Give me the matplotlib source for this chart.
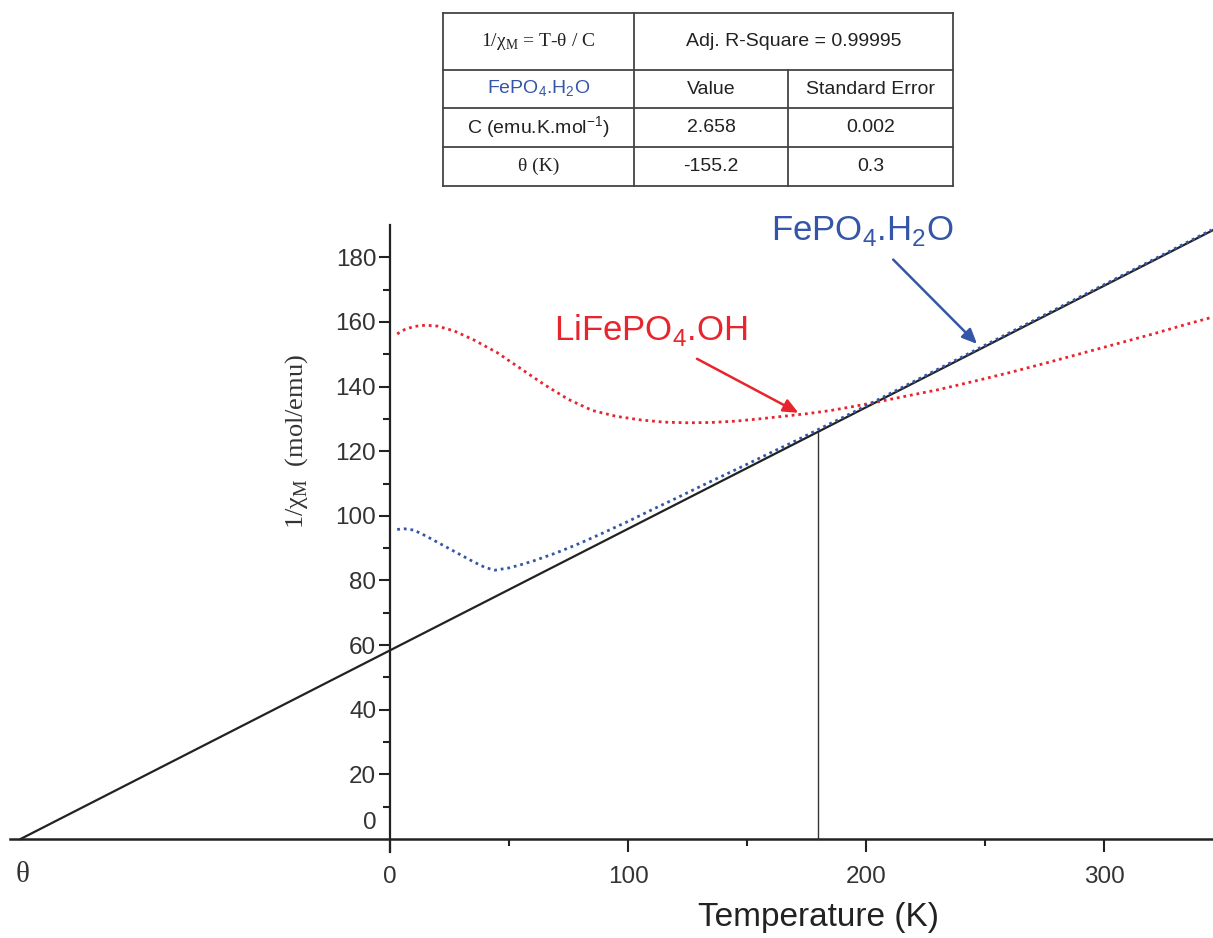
import numpy as np
import matplotlib
matplotlib.use('Agg')
import matplotlib.pyplot as plt
from matplotlib.ticker import FixedLocator
from matplotlib.lines import Line2D

# ---------------- data ----------------
T_red = [3, 6, 10, 15, 20, 27, 35, 45, 55, 65, 75, 85, 95, 105, 115, 125, 135,
         145, 155, 165, 175, 185, 195, 205, 215, 230, 245, 260, 275, 290, 305,
         320, 335, 345]
chi_red = [156.3, 157.6, 158.6, 159.0, 158.7, 157.2, 154.5, 150.5, 145.5, 140.5,
           136.0, 132.6, 130.8, 129.7, 129.0, 128.8, 128.9, 129.3, 130.0, 130.8,
           131.6, 132.6, 133.9, 135.3, 136.8, 139.0, 141.6, 144.3, 147.2, 150.2,
           153.2, 156.2, 159.4, 161.4]

T_blue = [3, 6, 10, 15, 20, 25, 30, 35, 40, 44, 50, 55, 60, 70, 80, 90, 100, 110,
          120, 130, 140, 150, 160, 170, 180, 190, 200, 220, 240, 260, 280, 300,
          320, 345]
chi_blue = [95.8, 96.0, 95.6, 93.8, 91.8, 89.8, 87.8, 85.8, 84.0, 83.2, 83.9,
            84.9, 86.0, 88.6, 91.6, 94.9, 98.3, 101.9, 105.4, 109.0, 112.5, 116.0,
            119.6, 123.1, 126.8, 130.4, 134.1, 141.6, 149.1, 156.6, 164.1, 171.6,
            179.1, 188.5]

C_fit = 2.658        # emu.K/mol
theta_fit = -155.2   # K
T_mark = 179.6       # K, vertical marker
T_max = 345.6

x_ticks = [0, 100, 200, 300]
x_minor = [50, 150, 250]
y_ticks = [20, 40, 60, 80, 100, 120, 140, 160, 180]
y_minor = [10, 30, 50, 70, 90, 110, 130, 150, 170]

table_rows = [
    ["1/χ$_{\\mathregular{M}}$ = T-θ / C", "Adj. R-Square = 0.99995"],
    ["FePO$_{\\mathregular{4}}$.H$_{\\mathregular{2}}$O", "Value", "Standard Error"],
    ["C (emu.K.mol$^{\\mathregular{-1}}$)", "2.658", "0.002"],
    ["θ (K)", "-155.2", "0.3"],
]

RED = '#e8242c'
BLUE = '#3556a8'
SANS = ['Liberation Sans', 'DejaVu Sans']
SERIF = ['Liberation Serif', 'DejaVu Serif']

plt.rcParams['font.family'] = SANS

W, H = 1213, 938
fig = plt.figure(figsize=(W / 100, H / 100), dpi=100)

# main axes
y_top_px, y_bot_px = 225.0, 855.2
ax_h = y_bot_px - y_top_px
ax = fig.add_axes([10 / W, 1 - y_bot_px / H, (W - 10) / W, ax_h / H])
ax.set_xlim(-159.6, T_max)
ax.set_ylim(-5, 190)
ax.patch.set_alpha(0)

for s in ['top', 'right']:
    ax.spines[s].set_visible(False)
ax.spines['left'].set_position(('data', 0))
ax.spines['bottom'].set_position(('data', 0))
ax.spines['left'].set_bounds(-4, 190)
ax.spines['left'].set_linewidth(1.6)
ax.spines['bottom'].set_linewidth(1.8)
ax.spines['left'].set_color('#222222')
ax.spines['bottom'].set_color('#222222')

ax.xaxis.set_major_locator(FixedLocator(x_ticks))
ax.xaxis.set_minor_locator(FixedLocator(x_minor))
ax.yaxis.set_major_locator(FixedLocator(y_ticks))
ax.yaxis.set_minor_locator(FixedLocator(y_minor))
ax.tick_params(axis='x', which='major', direction='out', length=9.4, width=1.5,
               labelsize=17.5, pad=10, colors='#222222', labelcolor='#333333')
ax.tick_params(axis='x', which='minor', direction='out', length=5, width=1.5,
               colors='#222222')
ax.tick_params(axis='y', which='major', direction='out', length=8, width=1.5,
               labelsize=17.5, pad=2, colors='#222222', labelcolor='#333333')
ax.tick_params(axis='y', which='minor', direction='out', length=5, width=1.5,
               colors='#222222')
ax.set_xticklabels([str(v) for v in x_ticks])
ax.set_yticklabels([str(v) for v in y_ticks])

# "0" label on y axis (sits just above the x axis)
ax.text(-5.5, 5, '0', ha='right', va='center', fontsize=17.5, color='#333333')
# theta label
ax.text(theta_fit + 1, -11.0, 'θ', ha='center', va='center', fontsize=21,
        family=SERIF, color='#333333')

# fit line
T_line = np.array([theta_fit, T_max])
ax.plot(T_line, (T_line - theta_fit) / C_fit, color='#222222', lw=1.6, zorder=3)
# vertical marker
ax.plot([T_mark, T_mark], [0, (T_mark - theta_fit) / C_fit], color='#333333',
        lw=1.0, zorder=3)

# data curves
ax.plot(T_red, chi_red, color=RED, lw=2.0, linestyle=(0, (1, 1.4)), zorder=4)
ax.plot(T_blue, chi_blue, color=BLUE, lw=2.0, linestyle=(0, (1, 1.4)), zorder=4)

# labels + arrows
ax.text(198.5, 188.0, 'FePO$_{\\mathregular{4}}$.H$_{\\mathregular{2}}$O', color=BLUE,
        fontsize=25, ha='center', va='center')
ax.annotate('', xy=(246.5, 153.2), xytext=(211.3, 179.3),
            arrowprops=dict(arrowstyle='-|>,head_length=0.9,head_width=0.4',
                            color=BLUE, lw=1.8, shrinkA=0, shrinkB=0))
ax.text(109.6, 157.5, 'LiFePO$_{\\mathregular{4}}$.OH', color=RED,
        fontsize=25, ha='center', va='center')
ax.annotate('', xy=(171.5, 131.9), xytext=(128.9, 148.6),
            arrowprops=dict(arrowstyle='-|>,head_length=0.9,head_width=0.4',
                            color=RED, lw=1.8, shrinkA=0, shrinkB=0))

ax.set_xlabel('Temperature (K)', fontsize=24, color='#222222', va='center')
ax.xaxis.set_label_coords((819 - 10) / (W - 10), (y_bot_px - 917) / ax_h)
ax.set_ylabel('1/χ$_{\\mathregular{M}}$  (mol/emu)', fontsize=19, family=SERIF,
              color='#333333', va='center')
ax.yaxis.set_label_coords((297 - 10) / (W - 10), (y_bot_px - 441) / ax_h)

# ---------------- table ----------------
tax = fig.add_axes([0, 0, 1, 1])
tax.set_xlim(0, W)
tax.set_ylim(H, 0)
tax.axis('off')
tax.patch.set_alpha(0)

xl, x1, x2, xr = 443, 634, 788, 953
ys = [13, 70, 108, 147, 186]
lc, lw = '#444444', 1.3
for y in ys:
    tax.add_line(Line2D([xl, xr], [y, y], color=lc, lw=lw))
for x in [xl, x1, xr]:
    tax.add_line(Line2D([x, x], [ys[0], ys[-1]], color=lc, lw=lw))
tax.add_line(Line2D([x2, x2], [ys[1], ys[-1]], color=lc, lw=lw))

FS_T = 14
cx = [(xl + x1) / 2, (x1 + x2) / 2, (x2 + xr) / 2]
for r, row in enumerate(table_rows):
    yc = (ys[r] + ys[r + 1]) / 2
    if r == 0:
        tax.text(cx[0], yc, row[0], ha='center', va='center', fontsize=FS_T,
                 family=SERIF, color='#222222')
        tax.text((x1 + xr) / 2, yc, row[1], ha='center', va='center', fontsize=FS_T,
                 color='#222222')
        continue
    for c, txt in enumerate(row):
        fam = SANS
        col = '#222222'
        if r == 1 and c == 0:
            col = BLUE
        if r == 3 and c == 0:
            fam = SERIF
        tax.text(cx[c], yc, txt, ha='center', va='center', fontsize=FS_T,
                 family=fam, color=col)

fig.savefig('out.png', dpi=100)
